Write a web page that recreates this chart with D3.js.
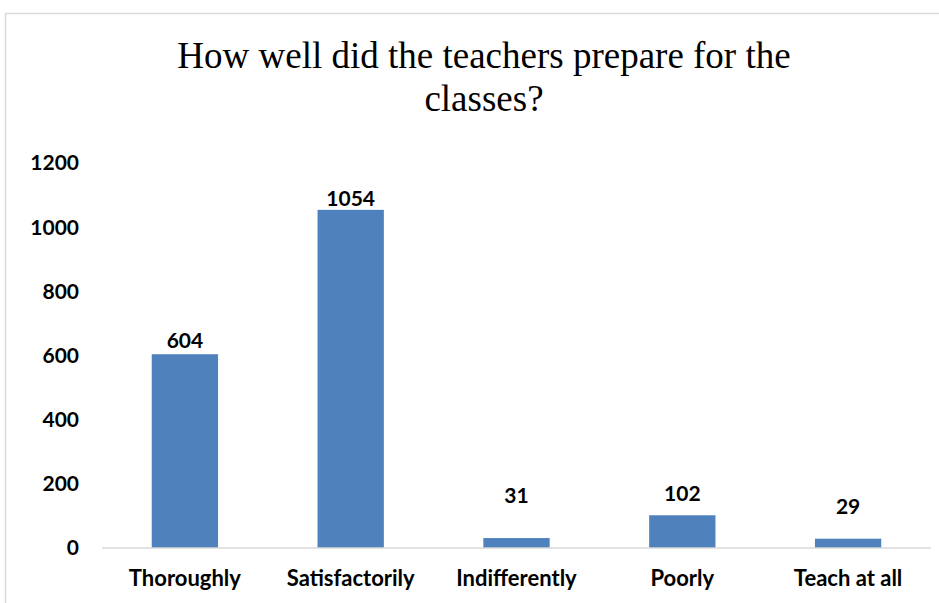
<!DOCTYPE html>
<html>
<head>
<meta charset="utf-8">
<script src="https://cdn.jsdelivr.net/npm/d3@7"></script>
<style>
	body { margin: 0; background: #fff; }
	svg text { fill: #000; }
</style>
</head>
<body>
<div id="chart"></div>
<script>
var categories = ['Thoroughly', 'Satisfactorily', 'Indifferently', 'Poorly', 'Teach at all'];
var counts = [604, 1054, 31, 102, 29];
var yTicks = [0, 200, 400, 600, 800, 1000, 1200];
var titleLines = ['How well did the teachers prepare for the', 'classes?'];

(function(){
	var width = 939, height = 603;
	// pixel lift of each data label above its bar top
	var labelLift = [6, 4, 35, 14, 25];

	var svg = d3.select('#chart')
		.append('svg')
		.attr('width', width)
		.attr('height', height);

	svg.append('rect')
		.attr('x', 5.5).attr('y', 13.5)
		.attr('width', width).attr('height', height)
		.attr('fill', '#fff')
		.attr('stroke', '#d9d9d9')
		.attr('stroke-width', 1.5);

	svg.selectAll('.title')
		.data(titleLines)
		.enter().append('text')
			.attr('class', 'title')
			.attr('x', 484)
			.attr('y', function(d, i) {return 68 + i * 43;})
			.attr('text-anchor', 'middle')
			.style('font-family', '"Liberation Serif", "Times New Roman", serif')
			.style('font-size', '37px')
			.text(function(d) {return d;});

	var x = d3.scaleBand()
		.domain(categories)
		.range([102, 931])
		.paddingInner(0.6)
		.paddingOuter(0.3);

	var y = d3.scaleLinear()
		.domain([0, 1200])
		.range([548, 163]);

	var font = 'Lato, "Liberation Sans", sans-serif';

	// y axis labels (no line)
	svg.append('g')
		.selectAll('text')
		.data(yTicks)
		.enter().append('text')
			.attr('x', 79)
			.attr('y', function(d) {return y(d);})
			.attr('dy', '0.35em')
			.attr('text-anchor', 'end')
			.style('font-family', font)
			.style('font-weight', 'bold')
			.style('font-size', '21px')
			.text(function(d) {return d;});

	svg.append('g')
		.selectAll('rect')
		.data(counts)
		.enter().append('rect')
			.attr('x', function(d, i) {return x(categories[i]);})
			.attr('y', function(d) {return y(d);})
			.attr('width', x.bandwidth())
			.attr('height', function(d) {return y(0) - y(d);})
			.attr('fill', '#4f81bd');

	svg.append('line')
		.attr('x1', 102).attr('x2', 931)
		.attr('y1', y(0)).attr('y2', y(0))
		.attr('stroke', '#d9d9d9')
		.attr('stroke-width', 1.5);

	svg.append('g')
		.selectAll('text')
		.data(counts)
		.enter().append('text')
			.attr('x', function(d, i) {return x(categories[i]) + x.bandwidth() / 2;})
			.attr('y', function(d, i) {return y(d) - labelLift[i];})
			.attr('text-anchor', 'middle')
			.style('font-family', font)
			.style('font-weight', 'bold')
			.style('font-size', '21px')
			.text(function(d) {return d;});

	svg.append('g')
		.selectAll('text')
		.data(categories)
		.enter().append('text')
			.attr('x', function(d) {return x(d) + x.bandwidth() / 2;})
			.attr('y', 586)
			.attr('text-anchor', 'middle')
			.style('font-family', font)
			.style('font-weight', 'bold')
			.style('font-size', '22px')
			.text(function(d) {return d;});
})();
</script>
</body>
</html>
